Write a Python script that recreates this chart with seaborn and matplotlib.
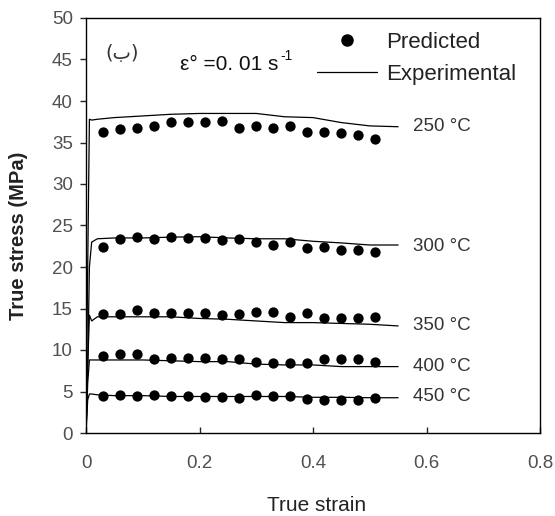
import numpy as np
import pandas as pd
import matplotlib
matplotlib.use('Agg')
import matplotlib.pyplot as plt
import seaborn as sns
from matplotlib.lines import Line2D

sns.set_style('ticks')
plt.rcParams['font.family'] = ['Liberation Sans', 'DejaVu Sans']

# temperatures
temps = ['250 °C', '300 °C', '350 °C', '400 °C', '450 °C']

# experimental curves (true strain, true stress MPa)
exp_strain = [0, 0.003, 0.006, 0.01, 0.02, 0.05, 0.10, 0.15, 0.20, 0.25,
              0.30, 0.35, 0.40, 0.45, 0.50, 0.55]
exp_250 = [0, 20, 37.8, 37.7, 37.8, 38.0, 38.2, 38.4, 38.5, 38.5, 38.5, 38.1, 38.0, 37.4, 37.0, 36.9]
exp_300 = [0, 8, 20, 23.0, 23.4, 23.5, 23.5, 23.6, 23.65, 23.5, 23.4, 23.4, 23.1, 22.9, 22.65, 22.65]
exp_350 = [0, 8, 14.2, 13.5, 14.0, 14.0, 14.0, 14.0, 13.8, 13.7, 13.5, 13.3, 13.3, 13.2, 13.1, 12.9]
exp_400 = [0, 6, 8.8, 8.8, 8.8, 8.8, 8.8, 8.7, 8.6, 8.6, 8.3, 8.2, 8.2, 8.0, 8.0, 8.0]
exp_450 = [0, 4, 4.7, 4.7, 4.6, 4.5, 4.5, 4.4, 4.4, 4.4, 4.4, 4.4, 4.3, 4.3, 4.25, 4.25]

# predicted points
pred_strain = [0.03, 0.06, 0.09, 0.12, 0.15, 0.18, 0.21, 0.24, 0.27,
               0.30, 0.33, 0.36, 0.39, 0.42, 0.45, 0.48, 0.51]
pred_250 = [36.3, 36.6, 36.8, 37.0, 37.5, 37.5, 37.5, 37.6, 36.8, 37.0, 36.8, 37.0, 36.3, 36.3, 36.1, 35.9, 35.4]
pred_300 = [22.4, 23.4, 23.6, 23.4, 23.6, 23.5, 23.5, 23.2, 23.4, 23.0, 22.7, 23.0, 22.3, 22.4, 22.0, 22.0, 21.8]
pred_350 = [14.3, 14.3, 14.8, 14.5, 14.5, 14.5, 14.5, 14.2, 14.3, 14.6, 14.6, 14.0, 14.4, 13.8, 13.8, 13.8, 14.0]
pred_400 = [9.3, 9.5, 9.5, 8.9, 9.0, 9.0, 9.0, 8.9, 8.9, 8.5, 8.4, 8.4, 8.4, 8.9, 8.9, 8.9, 8.5]
pred_450 = [4.4, 4.6, 4.4, 4.6, 4.4, 4.4, 4.3, 4.3, 4.2, 4.6, 4.4, 4.4, 4.1, 4.0, 4.0, 4.0, 4.2]

label_y = [36.9, 22.45, 13.0, 8.0, 4.4]

exp_all = [exp_250, exp_300, exp_350, exp_400, exp_450]
pred_all = [pred_250, pred_300, pred_350, pred_400, pred_450]

df_exp = pd.concat([pd.DataFrame({'strain': exp_strain, 'stress': s, 'temp': t})
                    for s, t in zip(exp_all, temps)])
df_pred = pd.concat([pd.DataFrame({'strain': pred_strain, 'stress': s, 'temp': t})
                     for s, t in zip(pred_all, temps)])

fig = plt.figure(figsize=(5.55, 5.16), dpi=100)
ax = fig.add_axes([86/555, 1-433/516, 454/555, 415/516])

sns.lineplot(data=df_exp, x='strain', y='stress', units='temp', estimator=None,
             color='black', lw=0.9, ax=ax, legend=False)
sns.scatterplot(data=df_pred, x='strain', y='stress', color='black', s=55,
                edgecolor='black', linewidth=0, ax=ax, legend=False, zorder=3)

for t, y in zip(temps, label_y):
    ax.text(0.577, y, t, fontsize=13.5, color='#333333', va='center', ha='left')

ax.text(0.063, 45.7, '(ب)', fontsize=14, color='#333333', ha='center', va='center',
        family=['DejaVu Sans'])
ax.text(0.166, 44.4, 'ε° =0. 01 s', fontsize=15, color='#111111', ha='left', va='center')
ax.text(0.343, 45.4, '-1', fontsize=10, color='#111111', ha='left', va='center')

handles = [Line2D([], [], marker='o', color='black', ls='none', markersize=8),
           Line2D([], [], color='black', lw=0.9)]
ax.legend(handles, ['Predicted', 'Experimental'], loc='upper left',
          bbox_to_anchor=((317-86)/454, (433-32)/415), frameon=False, fontsize=16,
          handlelength=2.7, handletextpad=0.4, labelspacing=0.5,
          borderpad=0, borderaxespad=0, labelcolor='#222222')

ax.set_xlim(0, 0.8)
ax.set_ylim(0, 50)
ax.set_xticks([0, 0.2, 0.4, 0.6, 0.8])
ax.set_xticklabels(['0', '0.2', '0.4', '0.6', '0.8'])
ax.set_yticks(np.arange(0, 51, 5))
ax.tick_params(axis='x', direction='in', length=4.5, pad=16, labelsize=13.5,
               labelcolor='#505050', width=1)
ax.tick_params(axis='y', direction='out', length=4.5, pad=5, labelsize=13.5,
               labelcolor='#505050', width=1)
for sp in ax.spines.values():
    sp.set_visible(True)
    sp.set_linewidth(1.0)
    sp.set_color('black')

ax.set_xlabel('True strain', fontsize=15, color='#222222')
ax.set_ylabel('True stress (MPa)', fontsize=14.5, fontweight='bold', color='#222222')
ax.xaxis.set_label_coords(0.507, -0.152)
ax.yaxis.set_label_coords(-0.128, 0.475)

fig.savefig('out.png', dpi=100)
